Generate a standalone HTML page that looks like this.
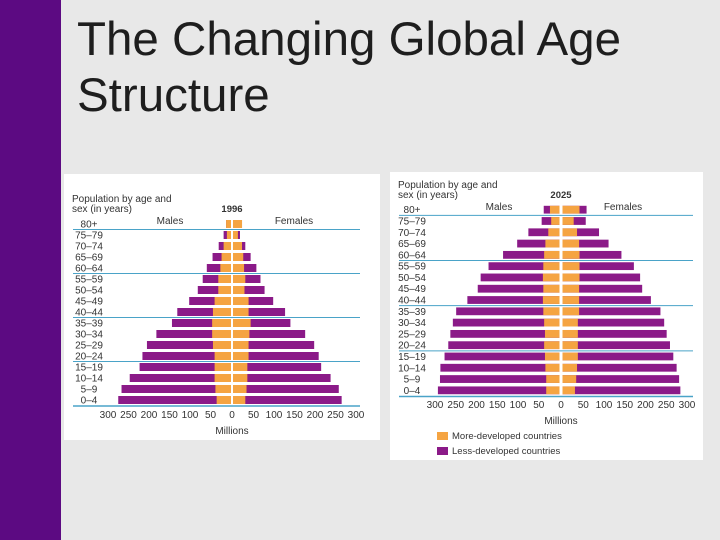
<!DOCTYPE html>
<html><head><meta charset="utf-8"><style>
body{margin:0;width:720px;height:540px;background:#e8e8e8;position:relative;overflow:hidden;font-family:"Liberation Sans",sans-serif}
#bar{position:absolute;left:0;top:0;width:61px;height:540px;background:#5c0a82}
#title{position:absolute;left:77px;top:12px;font-size:47.5px;line-height:56px;color:#1e1e1e;margin:0;font-weight:normal}
svg{position:absolute;left:0;top:0}
</style></head><body>
<div id="bar"></div>
<h1 id="title">The Changing Global Age<br>Structure</h1>
<svg id="s" width="720" height="540"></svg>
<script>
const ages=["80+","75–79","70–74","65–69","60–64","55–59","50–54","45–49","40–44","35–39","30–34","25–29","20–24","15–19","10–14","5–9","0–4"];
const ticks=[300,250,200,150,100,50,0,50,100,150,200,250,300];
const m1996Total=[12,18,30,45,59,69,81,102,131,144,182,205,216,223,247,267,275];
const m1996More=[12,10,18,23,26,31,31,40,44,46,46,44,40,40,40,38,35];
const f1996Total=[22,17,30,43,57,67,77,98,127,140,176,198,209,215,238,258,265];
const f1996More=[22,12,22,25,27,30,28,38,38,43,40,38,38,35,35,33,30];
const m2025Total=[38,43,75,102,136,171,190,197,222,249,257,263,268,277,287,288,293];
const m2025More=[23,20,27,34,37,39,40,39,40,39,37,35,37,35,34,32,32];
const f2025Total=[58,56,88,111,142,172,187,192,213,236,245,251,259,267,275,281,284];
const f2025More=[41,27,35,40,41,41,41,40,40,40,37,37,37,37,35,33,30];
const NS="http://www.w3.org/2000/svg";
const svg=document.getElementById('s');
function mk(t,a,p){const e=document.createElementNS(NS,t);for(const k in a)e.setAttribute(k,a[k]);(p||svg).appendChild(e);return e;}
function txt(x,y,s,size,anchor,weight,p){const e=mk('text',{x:x,y:y,'font-size':size,'text-anchor':anchor||'start','font-weight':weight||'normal',fill:'#333','font-family':'Liberation Sans, sans-serif'},p);e.textContent=s;return e;}
function chart(c){
  const g=mk('g',{});
  
  
  const bg=mk('rect',{x:c.px,y:c.py,width:c.pw,height:c.ph,fill:'#fff'},g);
  
  
  const xl=v=>c.cx-c.gap-v*c.k, xr=v=>c.cx+c.gap+v*c.k, yr=i=>c.y0+i*c.dy;
  const bh=c.bh;
  ages.forEach((a,i)=>{
    const y=yr(i)-bh/2;
    let r=mk('rect',{x:xl(c.mT[i]),y:y,width:c.mT[i]*c.k,height:bh,fill:'#8b1a88'},g);
    
    r=mk('rect',{x:xl(c.mM[i]),y:y,width:c.mM[i]*c.k,height:bh,fill:'#f5a442'},g);
    
    r=mk('rect',{x:xr(0),y:y,width:c.fT[i]*c.k,height:bh,fill:'#8b1a88'},g);
    
    r=mk('rect',{x:xr(0),y:y,width:c.fM[i]*c.k,height:bh,fill:'#f5a442'},g);
    
    const t=txt(c.ax,yr(i)+3.5,a,10,'middle','normal',g);
    
  });
  [0,4,8,12,16].forEach(i=>{
    const yy=i==16?yr(16)+c.dy/2+0.5:yr(i)+c.dy/2;
    const l=mk('line',{x1:c.lx1,x2:c.lx2,y1:yy,y2:yy,stroke:'#4aa3c8','stroke-width':i==16?1.5:1},g);
    
  });
  ticks.forEach((v,j)=>{
    const x=j<6?xl(v):(j==6?c.cx:xr(v));
    const t=txt(x,c.ty,String(v),10,'middle','normal',g);
    
  });
  let t=txt(c.cx,c.ty+16,'Millions',10,'middle','normal',g);
  t=txt(c.px+8,c.tt,'Population by age and',10,'start','normal',g);
  t=txt(c.px+8,c.tt+10,'sex (in years)',10,'start','normal',g);
  t=txt(c.cx,c.tt+10,c.year,9.5,'middle','bold',g);
  t=txt(c.cx-62,c.tt+22,'Males',10,'middle','normal',g);
  t=txt(c.cx+62,c.tt+22,'Females',10,'middle','normal',g);
  return g;
}
chart({name:'pyramid-1996',year:'1996',px:64,py:174,pw:316,ph:266,cx:232,gap:1,k:0.41,y0:224,dy:11,bh:8,ax:89,lx1:73,lx2:360,ty:418,tt:202,
  mT:m1996Total,mM:m1996More,fT:f1996Total,fM:f1996More});
const g2=chart({name:'pyramid-2025',year:'2025',px:390,py:172,pw:313,ph:288,cx:561,gap:1.5,k:0.415,y0:209.7,dy:11.29,bh:7.8,ax:412,lx1:399,lx2:693,ty:408,tt:188,
  mT:m2025Total,mM:m2025More,fT:f2025Total,fM:f2025More});
let r=mk('rect',{x:437,y:432,width:11,height:8,fill:'#f5a442'},g2);

let t=txt(452,439,'More-developed countries',9.5,'start','normal',g2);

r=mk('rect',{x:437,y:447,width:11,height:8,fill:'#8b1a88'},g2);

t=txt(452,454,'Less-developed countries',9.5,'start','normal',g2);

</script>
</body></html>
